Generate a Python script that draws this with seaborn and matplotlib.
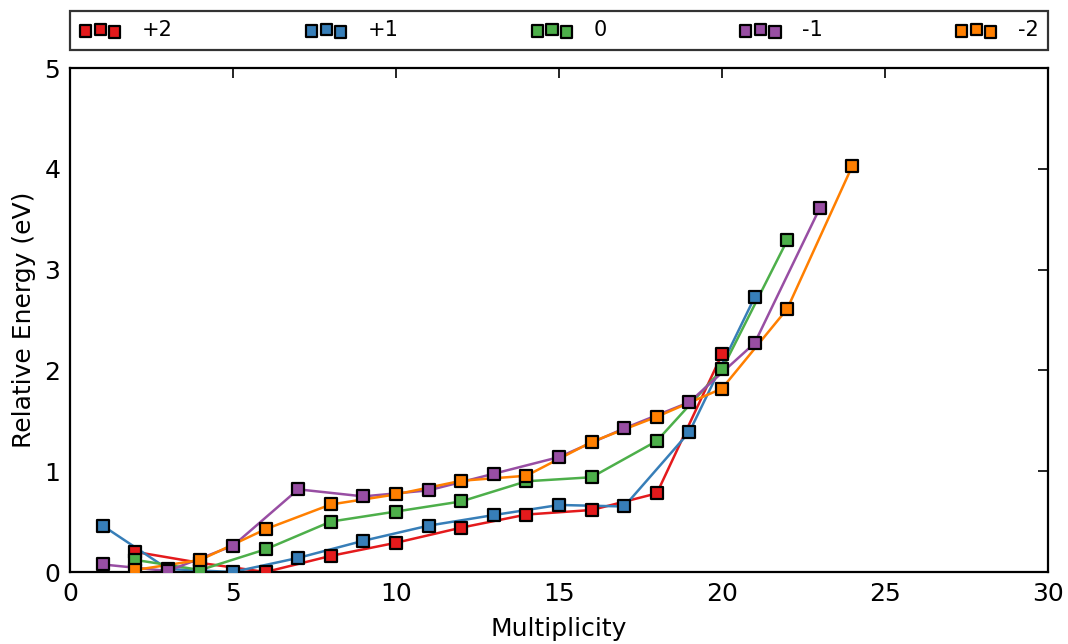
import numpy as np
import pandas as pd
import matplotlib
matplotlib.use("Agg")
import matplotlib.pyplot as plt
import seaborn as sns

# ---- data ----
labels = ["+2", "+1", "0", "-1", "-2"]
colors = ["#e41a1c", "#377eb8", "#4daf4a", "#984ea3", "#ff7f00"]

mult_p2 = [2, 4, 6, 8, 10, 12, 14, 16, 18, 20]
e_p2 = [0.20, 0.09, 0.00, 0.16, 0.29, 0.44, 0.57, 0.615, 0.78, 2.16]

mult_p1 = [1, 3, 5, 7, 9, 11, 13, 15, 17, 19, 21]
e_p1 = [0.46, 0.03, 0.00, 0.14, 0.31, 0.46, 0.565, 0.665, 0.65, 1.39, 2.725]

mult_0 = [2, 4, 6, 8, 10, 12, 14, 16, 18, 20, 22]
e_0 = [0.12, 0.02, 0.225, 0.50, 0.60, 0.70, 0.90, 0.94, 1.30, 2.01, 3.29]

mult_m1 = [1, 3, 5, 7, 9, 11, 13, 15, 17, 19, 21, 23]
e_m1 = [0.075, 0.01, 0.26, 0.82, 0.75, 0.81, 0.975, 1.14, 1.425, 1.685, 2.27, 3.61]

mult_m2 = [2, 4, 6, 8, 10, 12, 14, 16, 18, 20, 22, 24]
e_m2 = [0.02, 0.12, 0.425, 0.67, 0.77, 0.905, 0.955, 1.29, 1.54, 1.82, 2.61, 4.03]

x_ticks = [0, 5, 10, 15, 20, 25, 30]
y_ticks = [0, 1, 2, 3, 4, 5]

series = [(mult_p2, e_p2), (mult_p1, e_p1), (mult_0, e_0), (mult_m1, e_m1), (mult_m2, e_m2)]

# ---- style ----
sns.set_style("white")
plt.rcParams["font.family"] = ["DejaVu Sans"]
plt.rcParams["text.color"] = "black"
plt.rcParams["axes.labelcolor"] = "black"
plt.rcParams["xtick.color"] = "black"
plt.rcParams["ytick.color"] = "black"

fig = plt.figure(figsize=(10.68, 6.44), dpi=100)
ax = fig.add_axes([70 / 1068, 72 / 644, 978 / 1068, 504 / 644])

for (m, e), lab, c in zip(series, labels, colors):
    df = pd.DataFrame({"Multiplicity": m, "Energy": e})
    sns.lineplot(data=df, x="Multiplicity", y="Energy", color=c, linewidth=1.8,
                 ax=ax, legend=False, zorder=2)
    sns.scatterplot(data=df, x="Multiplicity", y="Energy", color=c, marker="s",
                    s=66, edgecolor="black", linewidth=1.6, ax=ax, label=lab, zorder=3)

ax.set_xlim(0, 30)
ax.set_ylim(0, 5)
ax.set_xticks(x_ticks)
ax.set_yticks(y_ticks)
ax.set_xlabel("Multiplicity", fontsize=18, labelpad=8)
ax.set_ylabel("Relative Energy (eV)", fontsize=18, labelpad=6)
ax.tick_params(axis="both", which="major", direction="in", length=7, width=1.2,
               top=True, right=True, labelsize=18, pad=7, color="black")
for sp in ax.spines.values():
    sp.set_visible(True)
    sp.set_color("black")
    sp.set_linewidth(1.6)

leg = ax.legend(loc="lower left", bbox_to_anchor=(0, 1.036, 1, 0.075), mode="expand",
                ncol=5, borderaxespad=0, scatterpoints=3,
                scatteryoffsets=[0.375, 0.5, 0.3125], fontsize=15,
                frameon=True, fancybox=False, edgecolor="black", handletextpad=1.0,
                handlelength=2.0, borderpad=0.45)
leg.get_frame().set_linewidth(1.6)

fig.savefig("out.png", dpi=100)
